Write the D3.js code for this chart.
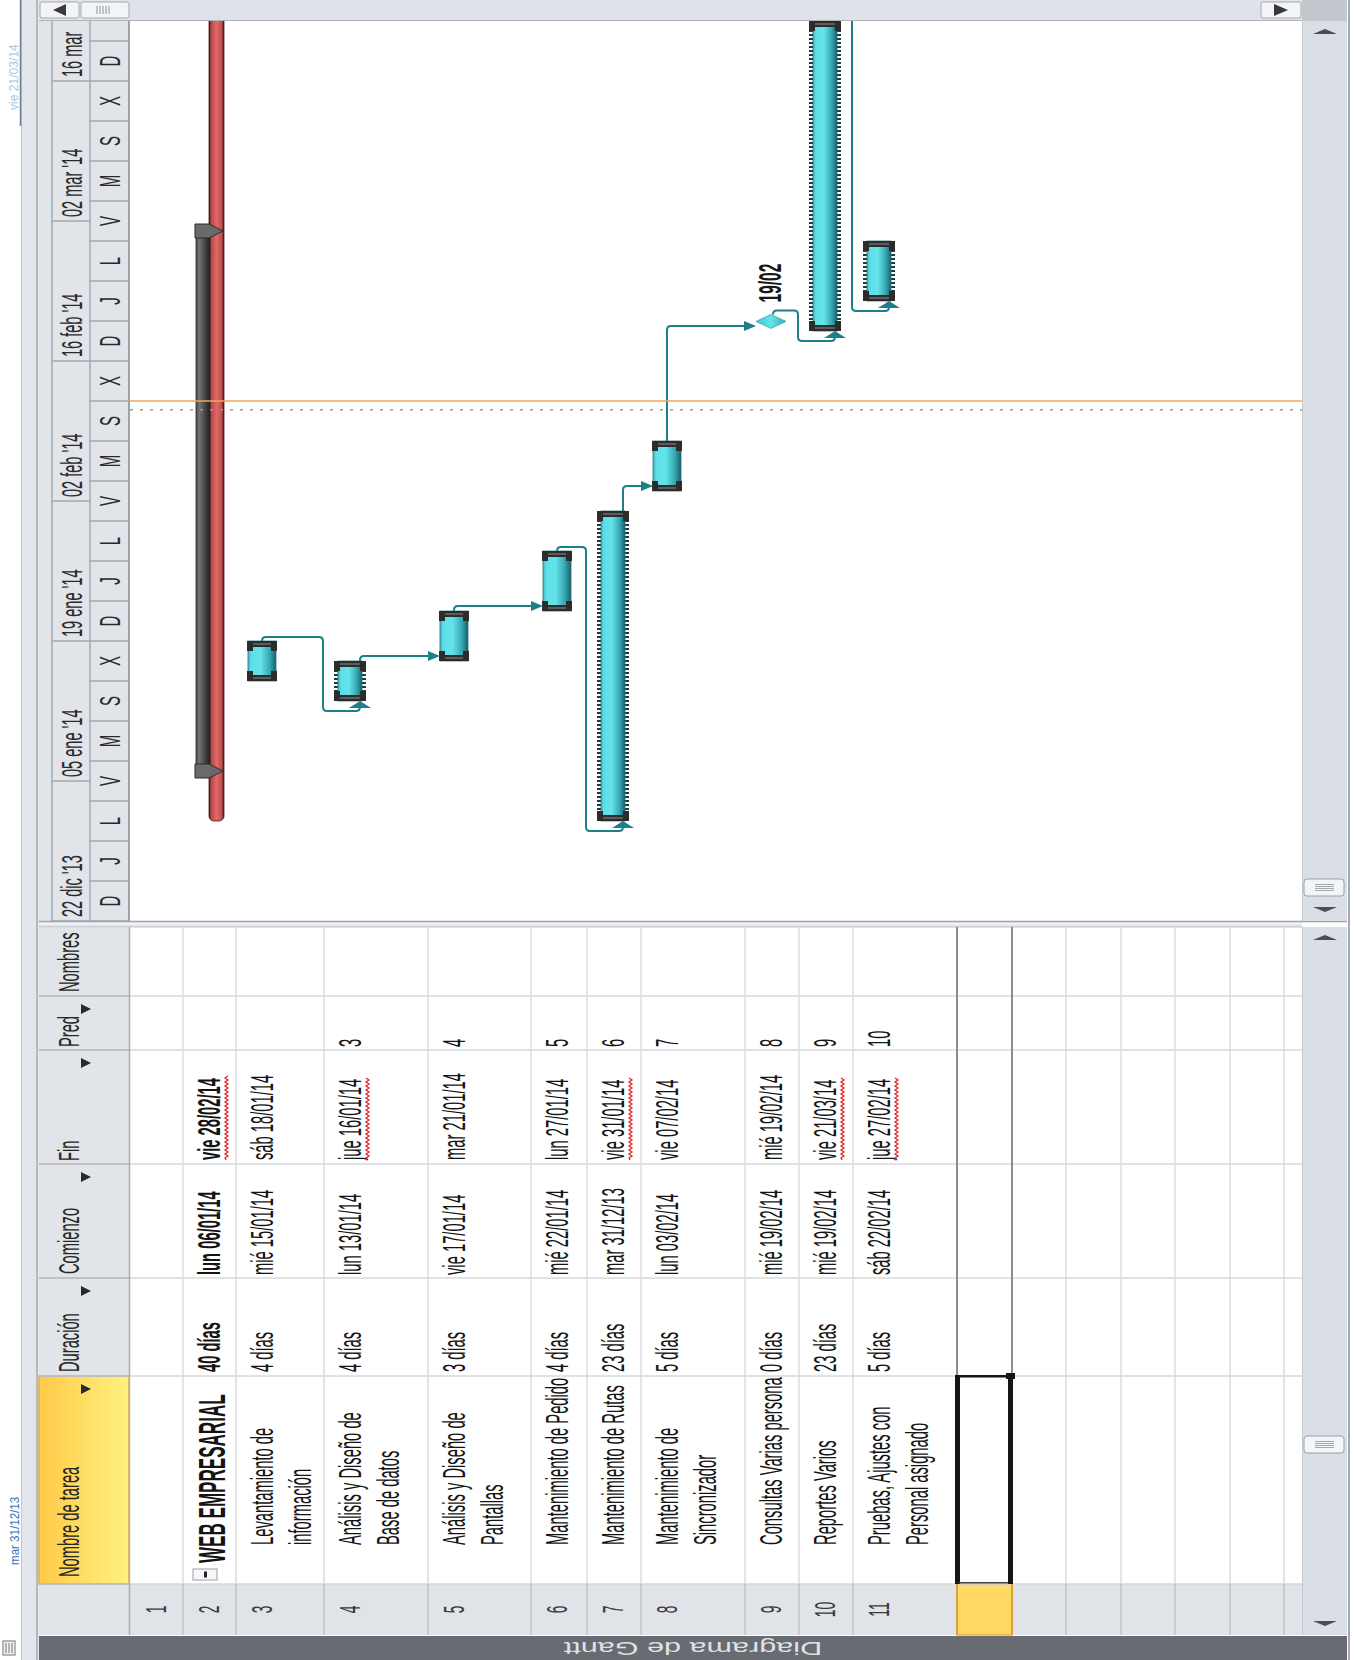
<!DOCTYPE html>
<html><head><meta charset="utf-8">
<script src="https://cdn.jsdelivr.net/npm/d3@7/dist/d3.min.js"></script>
<style>html,body{margin:0;padding:0;background:#fff;} svg{display:block;}</style>
</head><body>
<script>
// ================= DATA =================
const taskIds = [1,2,3,4,5,6,7,8,9,10,11];
const taskNames = [[], ["WEB EMPRESARIAL"], ["Levantamiento de","información"], ["Análisis y Diseño de","Base de datos"],
  ["Análisis y Diseño de","Pantallas"], ["Mantenimiento de Pedidos"], ["Mantenimiento de Rutas"],
  ["Mantenimiento de","Sincronizador"], ["Consultas Varias personal"], ["Reportes Varios"], ["Pruebas, Ajustes con","Personal asignado"]];
const durations = ["", "40 días","4 días","4 días","3 días","4 días","23 días","5 días","0 días","23 días","5 días"];
const startLabels = ["", "lun 06/01/14","mié 15/01/14","lun 13/01/14","vie 17/01/14","mié 22/01/14","mar 31/12/13","lun 03/02/14","mié 19/02/14","mié 19/02/14","sáb 22/02/14"];
const finishLabels = ["", "vie 28/02/14","sáb 18/01/14","jue 16/01/14","mar 21/01/14","lun 27/01/14","vie 31/01/14","vie 07/02/14","mié 19/02/14","vie 21/03/14","jue 27/02/14"];
const predecessors = [null,null,null,3,4,5,6,7,8,9,10];
const finishFlagged = [false,true,false,true,false,false,true,false,false,true,true];
const barStart = [null,"2014-01-06","2014-01-15","2014-01-13","2014-01-17","2014-01-22","2014-01-01","2014-02-03","2014-02-19","2014-02-19","2014-02-22"];
const barEnd   = [null,"2014-03-01","2014-01-19","2014-01-17","2014-01-22","2014-01-28","2014-02-01","2014-02-08","2014-02-19 23","2014-03-22","2014-02-28"];
const barKind  = ["none","summary","task","manual","task","task","manual","task","milestone","manual","manual"];
const rollupStart = "2014-01-01", rollupEnd = "2014-03-22";
const milestoneLabel = "19/02";
const columnHeaders = ["Nombre de tarea","Duración","Comienzo","Fin","Pred","Nombres"];
const majorDates  = ["2013-12-22","2014-01-05","2014-01-19","2014-02-02","2014-02-16","2014-03-02","2014-03-16"];
const majorLabels = ["22 dic '13","05 ene '14","19 ene '14","02 feb '14","16 feb '14","02 mar '14","16 mar"];
const minorLabels = ["D","J","L","V","M","S","X","D","J","L","V","M","S","X","D","J","L","V","M","S","X","D",""];
const timeDomain = ["2013-12-22","2014-03-22"];
const currentDate = "2014-02-12", statusDate = "2014-02-11 03";
const timelineStart = "mar 31/12/13", timelineEnd = "vie 21/03/14";
const viewName = "Diagrama de Gantt";

// ================= LAYOUT =================
const W = 1354, H = 1660;
const FONT = "'Liberation Sans', Arial, 'DejaVu Sans', sans-serif";
const G_TOP = 21, G_BOT = 921, B_LEFT = 130, B_RIGHT = 1302;
const T_TOP = 927, T_BOT = 1635;
const rowEdges = [130,183,236,324,428,531,587,641,745,799,853,957,1012,1066,1121,1175,1230,1284,1302];
const col = {res:[927,996], pred:[996,1050], fin:[1050,1164], start:[1164,1278], dur:[1278,1376], name:[1376,1584], id:[1584,1635]};
const P = s => new Date(s.length === 10 ? s + "T00:00:00Z" : s.replace(" ","T") + ":00:00Z");

const y = d3.scaleUtc().domain(timeDomain.map(P)).range([G_BOT, G_TOP]);
const rowStart = id => rowEdges[id-1];

const svg = d3.select("body").append("svg").attr("width", W).attr("height", H)
  .attr("font-family", FONT);
const defs = svg.append("defs");

function lin(id, stops, x2=1, y2=0){
  const g = defs.append("linearGradient").attr("id", id).attr("x1",0).attr("y1",0).attr("x2",x2).attr("y2",y2);
  stops.forEach(([o,c]) => g.append("stop").attr("offset", o).attr("stop-color", c));
}
lin("taskGrad", [[0,"#3bb9c3"],[0.12,"#5edfe7"],[0.45,"#63e3ea"],[0.78,"#36a7b1"],[1,"#17606a"]]);
lin("sumGrad", [[0,"#4d4d4d"],[0.25,"#727272"],[0.7,"#3e3e3e"],[1,"#1f1f1f"]]);
lin("redGrad", [[0,"#3c1414"],[0.15,"#b84848"],[0.5,"#e26868"],[0.85,"#c24e4e"],[1,"#3c1414"]]);
lin("yellowGrad", [[0,"#ffca4a"],[1,"#fff27e"]]);
lin("msGrad", [[0,"#46c8d2"],[0.5,"#66e2ea"],[1,"#3aaeb8"]]);
defs.append("clipPath").attr("id","ganttClip").append("rect").attr("x",B_LEFT).attr("y",G_TOP).attr("width",B_RIGHT-B_LEFT).attr("height",G_BOT-G_TOP);
defs.append("clipPath").attr("id","hdrClip").append("rect").attr("x",39).attr("y",G_TOP).attr("width",91).attr("height",G_BOT-G_TOP);
defs.append("clipPath").attr("id","nameClip").append("rect").attr("x",B_LEFT).attr("y",col.name[0]+1).attr("width",B_RIGHT-B_LEFT).attr("height",col.name[1]-col.name[0]-1);

// vertical text helper: baseline at X=bx, text starts at Y=sy and reads upward
function vt(sel, str, bx, sy, o = {}) {
  const fs = o.fs || 32, f = o.f || 0.461;
  return sel.append("text")
    .attr("transform", `translate(${bx},${sy}) rotate(-90) scale(${f},1)`)
    .attr("font-size", fs).attr("font-weight", o.weight || "normal")
    .attr("fill", o.fill || "#141414").attr("text-anchor", o.anchor || "start").text(str);
}

// ================= BACKGROUND =================
svg.append("rect").attr("width", W).attr("height", H).attr("fill", "#ffffff");

// left timeline strip
svg.append("rect").attr("x",0).attr("y",0).attr("width",21).attr("height",H).attr("fill","#ffffff");
svg.append("rect").attr("x",21).attr("y",0).attr("width",18).attr("height",H).attr("fill","#e3e6ea");
svg.append("line").attr("x1",21.5).attr("x2",21.5).attr("y1",0).attr("y2",H).attr("stroke","#bfc4cb");
svg.append("line").attr("x1",37).attr("x2",37).attr("y1",0).attr("y2",H).attr("stroke","#b4b9c0").attr("stroke-width",2);
svg.append("line").attr("x1",20.5).attr("x2",20.5).attr("y1",0).attr("y2",126).attr("stroke","#6f7f95").attr("stroke-width",1.5);
vt(svg, timelineEnd, 18, 110, {fs:13, f:0.93, fill:"#a9c5e6"});
vt(svg, timelineStart, 19, 1565, {fs:13, f:0.89, fill:"#3d72b8"});
// small view icon bottom-left
svg.append("rect").attr("x",3).attr("y",1641).attr("width",12).attr("height",14).attr("fill","#f2f3f5").attr("stroke","#6c7078");
[6,9,12].forEach(xx => svg.append("line").attr("x1",xx).attr("x2",xx).attr("y1",1643).attr("y2",1653).attr("stroke","#6c7078"));

// ================= TOP SCROLLBAR =================
svg.append("rect").attr("x",39).attr("y",0).attr("width",B_RIGHT-39).attr("height",G_TOP).attr("fill","#dfe2e8");
svg.append("rect").attr("x",B_RIGHT).attr("y",0).attr("width",W-B_RIGHT).attr("height",G_TOP).attr("fill","#c3c8cf");
svg.append("line").attr("x1",39).attr("x2",B_RIGHT).attr("y1",G_TOP-0.5).attr("y2",G_TOP-0.5).attr("stroke","#aeb3ba");
svg.append("rect").attr("x",40).attr("y",2).attr("width",39).attr("height",16).attr("rx",2).attr("fill","#f3f4f6").attr("stroke","#a3a8b0");
svg.append("path").attr("d","M53,10 L66,4 L66,16 Z").attr("fill","#3a3a3a");
svg.append("rect").attr("x",81).attr("y",2).attr("width",48).attr("height",16).attr("rx",2).attr("fill","#f3f4f6").attr("stroke","#a3a8b0");
[97,100,103,106,109].forEach(xx => svg.append("line").attr("x1",xx).attr("x2",xx).attr("y1",6).attr("y2",14).attr("stroke","#8d939b"));
svg.append("rect").attr("x",1261).attr("y",2).attr("width",40).attr("height",16).attr("rx",2).attr("fill","#f3f4f6").attr("stroke","#a3a8b0");
svg.append("path").attr("d","M1288,10 L1274,4 L1274,16 Z").attr("fill","#3a3a3a");

// ================= TIMESCALE HEADER =================
const hdr = svg.append("g");
hdr.append("rect").attr("x",39).attr("y",G_TOP).attr("width",91).attr("height",G_BOT-G_TOP).attr("fill","#e1e4e9");
const hdrC = hdr.append("g").attr("clip-path","url(#hdrClip)");
[52,90].forEach(xx => hdrC.append("line").attr("x1",xx).attr("x2",xx).attr("y1",G_TOP).attr("y2",G_BOT).attr("stroke","#a3a8af").attr("stroke-width",1.5));
hdrC.append("line").attr("x1",129).attr("x2",129).attr("y1",G_TOP).attr("y2",G_BOT).attr("stroke","#9ea3aa").attr("stroke-width",2);
const majors = majorDates.map(P);
majors.forEach((d,i) => {
  const yy = y(d);
  hdrC.append("line").attr("x1",52).attr("x2",90).attr("y1",yy).attr("y2",yy).attr("stroke","#a3a8af").attr("stroke-width",1.5);
  vt(hdrC, majorLabels[i], 82, yy-4, {fs:30, f:0.485, fill:"#2a2a2a"});
});
const minorStart = P(timeDomain[0]);
minorLabels.forEach((lab,i) => {
  const d0 = d3.utcDay.offset(minorStart, 4*i), d1 = d3.utcDay.offset(minorStart, 4*(i+1));
  const y0 = y(d0), y1 = y(d1);
  hdrC.append("line").attr("x1",90).attr("x2",129).attr("y1",y0).attr("y2",y0).attr("stroke","#a3a8af").attr("stroke-width",1.5);
  if (lab) vt(hdrC, lab, 120, (y0+y1)/2, {fs:30, f:0.5, anchor:"middle", fill:"#2a2a2a"});
});

// ================= GANTT BODY =================
const gb = svg.append("g").attr("clip-path","url(#ganttClip)");
gb.append("rect").attr("x",B_LEFT).attr("y",G_TOP).attr("width",B_RIGHT-B_LEFT).attr("height",G_BOT-G_TOP).attr("fill","#fff");

const bars = taskIds.map(id => ({id, kind: barKind[id-1],
  s: barStart[id-1] ? P(barStart[id-1]) : null, e: barEnd[id-1] ? P(barEnd[id-1]) : null}));
const cxOf = id => rowStart(id) + 26;
const geo = {};
bars.forEach(b => {
  if (!b.s) return;
  const cx = cxOf(b.id);
  if (b.kind === "task") geo[b.id] = {x0: cx-14, x1: cx+14, ys: y(b.s), ye: y(b.e), link: cx};
  else if (b.kind === "manual") geo[b.id] = {x0: cx-12, x1: cx+12, ys: y(b.s), ye: y(b.e), link: cx+10};
  else if (b.kind === "milestone") geo[b.id] = {x0: cx-15, x1: cx+15, ys: y(b.s), ye: y(b.e), link: cx+2, my: y(b.e)};
});

// summary row
const sum = bars.find(b => b.kind === "summary");
const rs2 = rowStart(sum.id);
const linksG = gb.append("g");
const barsG = gb.append("g");
// rollup (red)
barsG.append("rect").attr("x", rs2+26).attr("y", y(P(rollupEnd))-10).attr("width", 15)
  .attr("height", y(P(rollupStart)) - y(P(rollupEnd)) + 10).attr("rx", 5)
  .attr("fill","url(#redGrad)").attr("stroke","#4a1a1a").attr("stroke-width",0.8);
// summary gray
barsG.append("rect").attr("x", rs2+13).attr("y", y(sum.e)).attr("width", 14).attr("height", y(sum.s)-y(sum.e))
  .attr("fill","url(#sumGrad)").attr("stroke","#262626").attr("stroke-width",0.8);
[y(sum.s), y(sum.e)].forEach(c => {
  barsG.append("path").attr("d", `M${rs2+12},${c-7} H${rs2+26} L${rs2+40},${c} L${rs2+26},${c+7} H${rs2+12} Z`)
    .attr("fill","#6a6a6a").attr("stroke","#2b2b2b").attr("stroke-width",1);
});

function caps(g, x0, x1, ye, ys) {
  [[ye, 1], [ys, -1]].forEach(([yy, dir]) => {
    const band = dir > 0 ? [yy, yy+6] : [yy-6, yy];
    const leg = dir > 0 ? [yy+6, yy+10] : [yy-10, yy-6];
    g.append("rect").attr("x", x0-1).attr("y", band[0]).attr("width", x1-x0+2).attr("height", 6).attr("fill","#2c2c2c");
    g.append("line").attr("x1", x0+5).attr("x2", x1-5).attr("y1", yy+3*dir).attr("y2", yy+3*dir).attr("stroke","#6e6e6e").attr("stroke-width",1.5);
    g.append("rect").attr("x", x0-1).attr("y", leg[0]).attr("width", 6).attr("height", 4).attr("fill","#2c2c2c");
    g.append("rect").attr("x", x1-5).attr("y", leg[0]).attr("width", 6).attr("height", 4).attr("fill","#2c2c2c");
  });
}
bars.forEach(b => {
  const gm = geo[b.id]; if (!gm) return;
  if (b.kind === "milestone") {
    const cx = cxOf(b.id), cy = gm.my;
    barsG.append("path").attr("d", `M${cx-15},${cy} L${cx},${cy-7} L${cx+15},${cy} L${cx},${cy+7} Z`)
      .attr("fill","url(#msGrad)").attr("stroke","#3aa7b0").attr("stroke-width",0.8);
    vt(barsG, milestoneLabel, cx+10, cy-19, {fs:31, f:0.5, weight:"600", fill:"#161616"});
    return;
  }
  if (b.kind === "manual") {
    const tg = barsG.append("g").attr("fill","#1c3a40");
    for (let yy = gm.ye + 9; yy < gm.ys - 9; yy += 4) {
      tg.append("rect").attr("x", gm.x0-4).attr("y", yy).attr("width", 4).attr("height", 2);
      tg.append("rect").attr("x", gm.x1).attr("y", yy).attr("width", 4).attr("height", 2);
    }
  }
  barsG.append("rect").attr("x", gm.x0).attr("y", gm.ye).attr("width", gm.x1-gm.x0).attr("height", gm.ys-gm.ye)
    .attr("fill","url(#taskGrad)").attr("stroke","#2a6f76").attr("stroke-width",0.8);
  const cw = b.kind === "manual" ? 3 : 0;
  caps(barsG, gm.x0-cw, gm.x1+cw, gm.ye, gm.ys);
});

// links
const LC = "#1f7f88";
taskIds.forEach(id => {
  const p = predecessors[id-1]; if (!p) return;
  const gp = geo[p], gs = geo[id];
  const pe = barKind[p-1] === "milestone" ? gp.my - 7 : gp.ye;
  const x0 = gp.link, r = 4;
  const ss = gs.ys;
  let d;
  if (ss <= pe) {
    const hY = ss - 5;
    const ax = barKind[id-1] === "milestone" ? cxOf(id) - 15 : gs.x0;
    d = `M${x0},${pe} V${hY+r} Q${x0},${hY} ${x0+r},${hY} H${ax-11}`;
    linksG.append("path").attr("d", `M${ax},${hY} L${ax-12},${hY-5} L${ax-12},${hY+5} Z`).attr("fill", LC);
  } else {
    const y1 = pe - 4, xg = rowStart(id) - 1, y2 = ss + 10, xa = gs.x1 - 2;
    d = `M${x0},${pe} V${y1+r} Q${x0},${y1} ${x0+r},${y1} H${xg-r} Q${xg},${y1} ${xg},${y1+r} V${y2-r} Q${xg},${y2} ${xg+r},${y2} H${xa-r} Q${xa},${y2} ${xa},${y2-r} V${ss+6}`;
    linksG.append("path").attr("d", `M${xa},${ss} L${xa-11},${ss+7} L${xa+11},${ss+7} Z`).attr("fill", LC);
  }
  linksG.append("path").attr("d", d).attr("fill","none").attr("stroke", LC).attr("stroke-width", 2);
});
linksG.raise();

// current & status date lines
gb.append("line").attr("x1",B_LEFT).attr("x2",B_RIGHT).attr("y1",y(P(currentDate))).attr("y2",y(P(currentDate)))
  .attr("stroke","#f2a35e").attr("stroke-width",1.5);
gb.append("line").attr("x1",B_LEFT).attr("x2",B_RIGHT).attr("y1",y(P(statusDate))).attr("y2",y(P(statusDate)))
  .attr("stroke","#9a9a9a").attr("stroke-width",1.5).attr("stroke-dasharray","3,7");

// ================= DIVIDER =================
svg.append("rect").attr("x",39).attr("y",G_BOT).attr("width",B_RIGHT-39).attr("height",T_TOP-G_BOT).attr("fill","#eef0f3");
svg.append("line").attr("x1",39).attr("x2",W-6).attr("y1",G_BOT+0.5).attr("y2",G_BOT+0.5).attr("stroke","#9fa4ab").attr("stroke-width",1.5);
svg.append("line").attr("x1",39).attr("x2",B_RIGHT).attr("y1",T_TOP-0.5).attr("y2",T_TOP-0.5).attr("stroke","#b9bdc3").attr("stroke-width",1.5);

// ================= TABLE =================
const tb = svg.append("g");
tb.append("rect").attr("x",B_LEFT).attr("y",T_TOP).attr("width",B_RIGHT-B_LEFT).attr("height",T_BOT-T_TOP).attr("fill","#fff");
// header column
tb.append("rect").attr("x",39).attr("y",T_TOP).attr("width",91).attr("height",T_BOT-T_TOP).attr("fill","#e1e4e9");
tb.append("rect").attr("x",39).attr("y",col.name[0]).attr("width",90).attr("height",col.name[1]-col.name[0])
  .attr("fill","url(#yellowGrad)").attr("stroke","#e0a133").attr("stroke-width",1.2);
// ID column
tb.append("rect").attr("x",B_LEFT).attr("y",col.id[0]).attr("width",B_RIGHT-B_LEFT).attr("height",col.id[1]-col.id[0]).attr("fill","#e0e3e8");
// selected ID cell (row 12)
tb.append("rect").attr("x",rowEdges[11]).attr("y",col.id[0]).attr("width",rowEdges[12]-rowEdges[11]).attr("height",col.id[1]-col.id[0])
  .attr("fill","#ffd963").attr("stroke","#e0a133").attr("stroke-width",1.2);
// grid: column separators (horizontal)
Object.values(col).forEach(([a,b]) => {
  tb.append("line").attr("x1",39).attr("x2",B_RIGHT).attr("y1",a).attr("y2",a).attr("stroke","#d6d8db").attr("stroke-width",1.5);
});
[col.pred[0], col.fin[0], col.start[0], col.dur[0], col.name[0], col.id[0]].forEach(a =>
  tb.append("line").attr("x1",39).attr("x2",129).attr("y1",a).attr("y2",a).attr("stroke","#b4b8be").attr("stroke-width",1.5));
// row separators (vertical)
rowEdges.slice(1,-1).forEach((xx,i) => {
  const sel = (i === 10 || i === 11);
  tb.append("line").attr("x1",xx).attr("x2",xx).attr("y1",T_TOP).attr("y2",col.id[0])
    .attr("stroke", sel ? "#8c8c8c" : "#dadcdf").attr("stroke-width", sel ? 2 : 1.5);
  tb.append("line").attr("x1",xx).attr("x2",xx).attr("y1",col.id[0]).attr("y2",T_BOT)
    .attr("stroke", sel ? "#d89a2a" : "#c1c5cb").attr("stroke-width", 1.5);
});
tb.append("line").attr("x1",129.5).attr("x2",129.5).attr("y1",T_TOP).attr("y2",T_BOT).attr("stroke","#a9aeb5").attr("stroke-width",1.5);

// column header labels
const hdrStarts = [col.name[1]-7, col.dur[1]-4, col.start[1]-4, col.fin[1]-3, col.pred[1]-3, col.res[1]-4];
const hdrTops = [col.name[0], col.dur[0], col.start[0], col.fin[0], col.pred[0], null];
columnHeaders.forEach((h,i) => {
  vt(tb, h, 79, hdrStarts[i], {fs:30, f:0.49, fill:"#262626"});
  if (hdrTops[i] !== null) {
    const ty = hdrTops[i] + 13;
    tb.append("path").attr("d", `M${81},${ty-5} L${91},${ty} L${81},${ty+5} Z`).attr("fill","#2a2a2a");
  }
});

// cells
const nameG = tb.append("g").attr("clip-path","url(#nameClip)");
function wavy(g, bx, sy, len) {
  let d = `M${bx},${sy}`; let k = 0;
  for (let yy = sy; yy > sy - len; yy -= 2) { d += ` L${bx + (k%2 ? 2 : -1)},${yy-2}`; k++; }
  g.append("path").attr("d", d).attr("fill","none").attr("stroke","#e3262b").attr("stroke-width",1.3);
}
taskIds.forEach(id => {
  const rs = rowStart(id), b1 = rs + 37, b2 = rs + 75;
  const isSum = barKind[id-1] === "summary";
  const w = isSum ? "bold" : "normal";
  vt(tb, String(id), b1-1, (col.id[0]+col.id[1])/2, {fs:30, f:0.46, anchor:"middle", fill:"#3a3a3a"});
  const nm = taskNames[id-1];
  if (isSum) {
    tb.append("rect").attr("x", rs+10).attr("y", col.name[1]-15).attr("width", 24).attr("height", 11)
      .attr("fill","#f7f8fa").attr("stroke","#9aa0a8");
    tb.append("rect").attr("x", rs+21).attr("y", col.name[1]-12.5).attr("width", 3).attr("height", 6).attr("fill","#222");
    vt(nameG, nm[0], rs+42, col.name[1]-21, {fs:37, f:0.461, weight:"bold"});
  } else {
    nm.forEach((t,j) => vt(nameG, t, j ? b2 : b1, col.name[1]-39));
  }
  if (durations[id-1]) vt(tb, durations[id-1], b1, col.dur[1]-4, {weight:w});
  if (startLabels[id-1]) vt(tb, startLabels[id-1], b1, col.start[1]-3, {weight:w});
  if (finishLabels[id-1]) {
    const t = vt(tb, finishLabels[id-1], b1, col.fin[1]-4, {weight:w});
    if (finishFlagged[id-1]) {
      const len = t.node().getComputedTextLength() * 0.461;
      wavy(tb, b1 + 6, col.fin[1]-4, len);
    }
  }
  if (predecessors[id-1]) vt(tb, String(predecessors[id-1]), b1, col.pred[1]-3);
});
// selected cell (row 12, name column)
const sx0 = rowEdges[11], sx1 = rowEdges[12];
tb.append("rect").attr("x", sx0-2).attr("y", col.name[0]).attr("width", 5).attr("height", col.name[1]-col.name[0]).attr("fill","#151515");
tb.append("rect").attr("x", sx1-4).attr("y", col.name[0]).attr("width", 5).attr("height", col.name[1]-col.name[0]).attr("fill","#151515");
tb.append("rect").attr("x", sx0-2).attr("y", col.name[0]-1).attr("width", sx1-sx0+2).attr("height", 2.5).attr("fill","#151515");
tb.append("rect").attr("x", sx1-6).attr("y", col.name[0]-3).attr("width", 9).attr("height", 6).attr("fill","#151515");
tb.append("rect").attr("x", sx0+2).attr("y", col.name[1]-2).attr("width", sx1-sx0-6).attr("height", 1.5).attr("fill","#444");

// ================= VERTICAL SCROLLBARS =================
function vscroll(y0, y1, thumbY) {
  svg.append("rect").attr("x",B_RIGHT).attr("y",y0).attr("width",W-B_RIGHT-7).attr("height",y1-y0).attr("fill","#dadee5");
  svg.append("line").attr("x1",B_RIGHT+0.5).attr("x2",B_RIGHT+0.5).attr("y1",y0).attr("y2",y1).attr("stroke","#c5cad1");
  svg.append("path").attr("d",`M1313,${y0+13} L1325,${y0+8} L1337,${y0+13} Z`).attr("fill","#4a4d52");
  svg.append("path").attr("d",`M1313,${y1-14} L1325,${y1-9} L1337,${y1-14} Z`).attr("fill","#4a4d52");
  svg.append("rect").attr("x",1304).attr("y",thumbY).attr("width",40).attr("height",17).attr("rx",3)
    .attr("fill","#f3f5f8").attr("stroke","#9aa1aa");
  [-3,-1,1,3].forEach(o => svg.append("line").attr("x1",1315).attr("x2",1334).attr("y1",thumbY+8.5+o).attr("y2",thumbY+8.5+o).attr("stroke","#8f959d").attr("stroke-width",0.8));
}
vscroll(G_TOP, G_BOT, 879);
vscroll(T_TOP, T_BOT, 1436);
svg.append("rect").attr("x",W-7).attr("y",0).attr("width",7).attr("height",H).attr("fill","#ffffff");
svg.append("line").attr("x1",W-5).attr("x2",W-5).attr("y1",0).attr("y2",H).attr("stroke","#a5aab1").attr("stroke-width",2);

// ================= BOTTOM VIEW BAR =================
svg.append("rect").attr("x",39).attr("y",T_BOT+1).attr("width",W-39-7).attr("height",H-T_BOT-1).attr("fill","#686b71");
svg.append("text").attr("transform",`translate(693,1648) rotate(180) scale(1.7,1)`)
  .attr("text-anchor","middle").attr("dominant-baseline","central").attr("font-size",18)
  .attr("fill","#dfe1e5").text(viewName);
</script>
</body></html>
